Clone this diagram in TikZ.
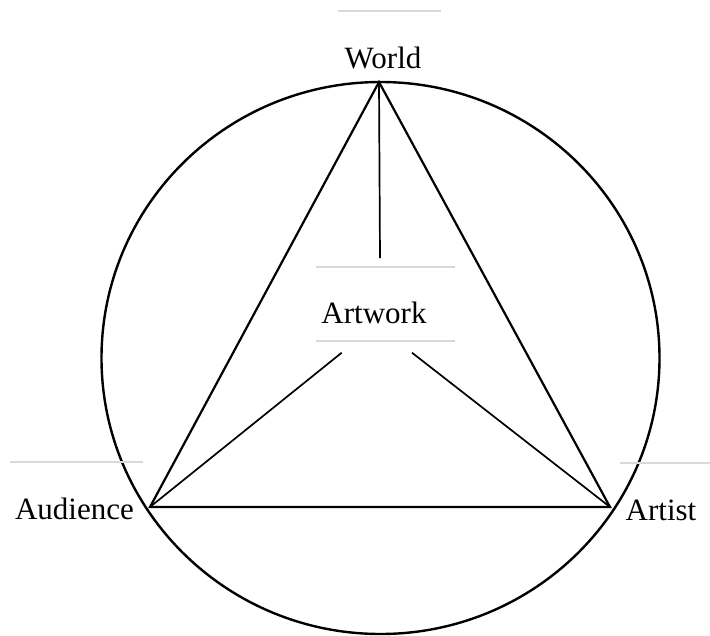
\documentclass[tikz,border=0pt]{standalone}
\usepackage{fontspec}
\setmainfont{Liberation Serif}
\usepackage{tikz}
\usetikzlibrary{positioning, calc}
\definecolor{rimBlack}{RGB}{0, 0, 0}
\definecolor{boxGray}{RGB}{217, 217, 217}
\tikzset{
  rim/.style={
    draw=rimBlack,
    line width=2.4pt
  },
  sideLine/.style={
    draw=rimBlack,
    line width=2.2pt,
    line join=miter
  },
  innerLine/.style={
    draw=rimBlack,
    line width=1.7pt
  },
  boxRule/.style={
    draw=boxGray,
    line width=2.6pt
  },
  pointLabel/.style={
    anchor=base,
    inner sep=0pt,
    font=\fontsize{31}{37}\selectfont
  }
}
\begin{document}
\begin{tikzpicture}[x=1pt, y=-1pt]
  \useasboundingbox (0,0) rectangle (710,635);
  % Outer circle
  \draw[rim] (380.5,358) ellipse [x radius=279pt, y radius=276pt];
  % Corners of the triangle
  \coordinate (world) at (379,82);
  \coordinate (audience) at (150,507);
  \coordinate (artist) at (610,507);
  \draw[sideLine] (world) -- (audience) -- (artist) -- cycle;
  % Labels
  \node[pointLabel] (worldText) at (383,68) {World};
  \node[pointLabel] (audienceText) at (74.5,519) {Audience};
  \node[pointLabel] (artistText) at (661,520) {Artist};
  \node[pointLabel] (artworkText) at (374,323) {Artwork};
  % Grey text box rules
  \draw[boxRule] (338,11) -- (441,11);
  \draw[boxRule] (316,267) -- (455,267);
  \draw[boxRule] (316,341) -- (455,341);
  \draw[boxRule] (10,462) -- (143,462);
  \draw[boxRule] (620,463) -- (710,463);
  % Links to the artwork
  \coordinate (artTop) at (380,258);
  \coordinate (artLeft) at (341.7,352.7);
  \coordinate (artRight) at (412,352.7);
  \draw[innerLine] (world) -- (artTop);
  \draw[innerLine] (artLeft) -- (audience);
  \draw[innerLine] (artRight) -- (artist);
\end{tikzpicture}
\end{document}
